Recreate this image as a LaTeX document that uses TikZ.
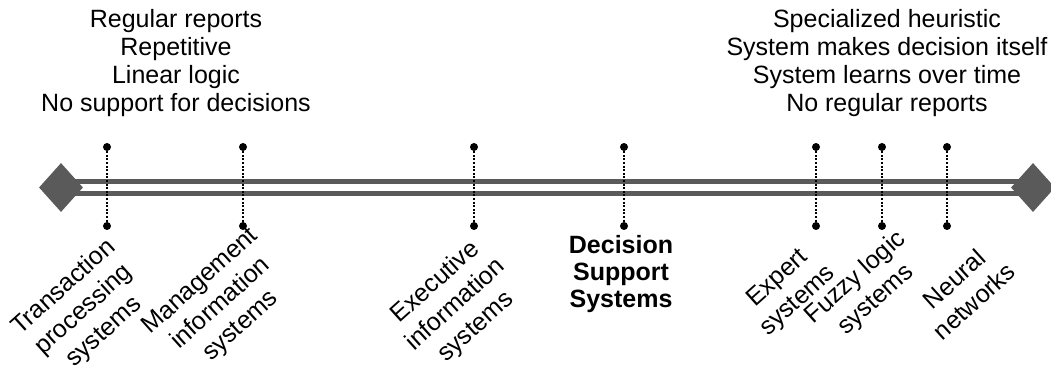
\documentclass[tikz,border=0pt]{standalone}
\usepackage{fontspec}
\setmainfont{Liberation Sans}
\usetikzlibrary{shapes.geometric}
\begin{document}
\begin{tikzpicture}[x=1pt,y=-1pt,
  txt/.style={font=\fontsize{25}{28}\selectfont, align=center, inner sep=0pt},
  tilted/.style={txt, font=\fontsize{25}{30}\selectfont, rotate=42},
  pin/.style={circle, fill=black, inner sep=0pt, minimum size=8pt},
  stem/.style={line width=2.2pt, dash pattern=on 2pt off 1.6pt, line cap=butt},
  rail/.style={draw=railgray, line width=5pt},
  endcap/.style={diamond, fill=railgray, inner sep=0pt, minimum width=44pt, minimum height=49pt},
]
\definecolor{railgray}{HTML}{5A5A5A}
\useasboundingbox (0,0) rectangle (1051,374);

% end markers and the double rail between them
\coordinate (lc) at (61,187.5);
\coordinate (rc) at (1033,187.5);
\draw[rail] ([yshift=-5.5pt]lc) -- ([yshift=-5.5pt]rc);
\draw[rail] ([yshift=5.5pt]lc) -- ([yshift=5.5pt]rc);
\node[endcap] (lend) at (lc) {};
\node[endcap] (rend) at (rc) {};

% top captions
\node[txt] (lefttext) at (176,63) {Regular reports\\Repetitive\\Linear logic\\No support for decisions};
\node[txt] (righttext) at (887,63) {Specialized heuristic\\System makes decision itself\\System learns over time\\No regular reports};

% markers along the scale
\foreach \n/\x in {tps/107, mis/243, eis/474, dss/624, es/816, fls/882, nn/947}{
  \node[pin] (\n top) at (\x,147) {};
  \node[pin] (\n bot) at (\x,226) {};
  \draw[stem] (\n top) -- (\n bot);
}

% system labels
\node[tilted] (tps) at (84,310) {Transaction\\processing\\systems};
\node[tilted] (mis) at (221,304) {Management\\information\\systems};
\node[tilted] (eis) at (456,305) {Executive\\information\\systems};
\node[txt, font=\fontsize{25}{27}\selectfont\bfseries] (dss) at (621,274) {Decision\\Support\\Systems};
\node[tilted] (es) at (788,290) {Expert\\systems};
\node[tilted] (fls) at (866,289) {Fuzzy logic\\systems};
\node[tilted] (nn) at (964,290) {Neural\\networks};
\end{tikzpicture}
\end{document}
